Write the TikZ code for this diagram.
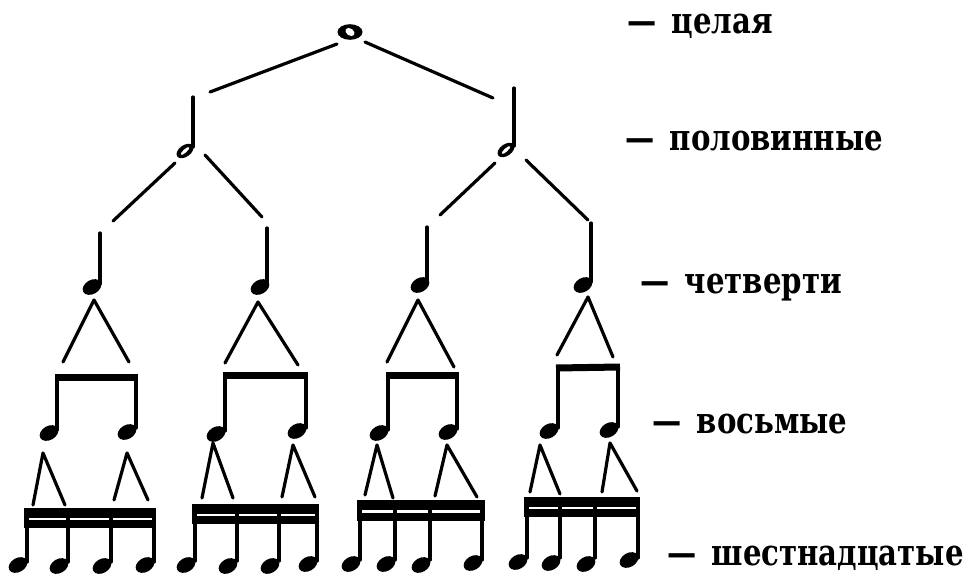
\documentclass[tikz,border=0pt]{standalone}
\usepackage{fontspec}
\setmainfont{DejaVu Serif}[FakeStretch=0.8]
\tikzset{
  link/.style={line width=3.2pt, line cap=round, line join=round},
  stem/.style={line width=3.2pt, line cap=round},
  beamone/.style={line width=7pt},
  lab/.style={anchor=base west, inner sep=0pt, font=\fontsize{36.5}{40}\selectfont\bfseries},
}
\newcommand\qhead[1]{\fill[shift={(#1)},rotate=30] (0,0) ellipse [x radius=10pt, y radius=7pt];}
\newcommand\hhead[1]{\fill[shift={(#1)},rotate=35] (0,0) ellipse [x radius=9.5pt, y radius=5.8pt];
  \fill[white,shift={(#1)},rotate=42] (0,0) ellipse [x radius=5.5pt, y radius=1.7pt];}
\newcommand\dbeam[4]{\fill (#1,#3) rectangle (#2,#4);
  \draw[white,line width=2.6pt] ({#1+2},{0.5*(#3+#4)+1}) -- ({#2-2},{0.5*(#3+#4)+1});}
\begin{document}
\begin{tikzpicture}[x=1pt,y=-1pt]
\useasboundingbox (0,0) rectangle (972,576);
% whole note
\coordinate (w) at (350,32);
\fill (w) ellipse [x radius=12.5pt, y radius=7.8pt];
\fill[white,shift={(w)},rotate=-35] (0,0) ellipse [x radius=5pt, y radius=3.5pt];
\draw[link] (337,44) -- (210,92);
\draw[link] (365,42) -- (493,98);
% half notes
\coordinate (h1) at (185,151);
\coordinate (h2) at (506,150);
\hhead{h1} \hhead{h2}
\draw[stem] (193,97) -- (193,147);
\draw[stem] (514,88) -- (514,146);
\draw[link] (175,163) -- (113,221);
\draw[link] (205,155) -- (262,217);
\draw[link] (495,163) -- (440,215);
\draw[link] (526,160) -- (588,220);
% quarter notes
\qhead{92,287} \qhead{260,287} \qhead{420,285} \qhead{583,285}
\draw[stem] (100,233) -- (100,284);
\draw[stem] (267,228) -- (267,284);
\draw[stem] (427,227) -- (427,282);
\draw[stem] (591,223) -- (591,282);
\draw[link] (63,362) -- (94,300) -- (129,362);
\draw[link] (225,363) -- (258,302) -- (298,365);
\draw[link] (387,362) -- (418,300) -- (454,367);
\draw[link] (557,355) -- (588,297) -- (613,357);
% eighth notes
\draw[beamone] (55,377) -- (138,377);
\draw[stem] (57,377) -- (57,430);  \draw[stem] (136,377) -- (136,428);
\qhead{49,433} \qhead{127,432}
\draw[beamone] (223,375) -- (308,375);
\draw[stem] (225,375) -- (225,431); \draw[stem] (306,375) -- (306,428);
\qhead{216,434} \qhead{297,431}
\draw[beamone] (386,375) -- (459,375);
\draw[stem] (388,375) -- (388,430); \draw[stem] (457,375) -- (457,429);
\qhead{379,433} \qhead{448,432}
\draw[beamone] (556,368) -- (620,367);
\draw[stem] (558,368) -- (558,428); \draw[stem] (618,367) -- (618,427);
\qhead{549,431} \qhead{609,430}
% links to sixteenths
\draw[link] (33,505) -- (43,453) -- (65,505);
\draw[link] (114,500) -- (127,453) -- (148,500);
\draw[link] (202,498) -- (213,443) -- (233,498);
\draw[link] (282,497) -- (293,445) -- (315,497);
\draw[link] (365,495) -- (377,445) -- (393,498);
\draw[link] (435,496) -- (447,445) -- (477,497);
\draw[link] (530,492) -- (540,445) -- (560,494);
\draw[link] (602,492) -- (610,443) -- (637,491);
% sixteenth notes
\dbeam{24}{156}{508}{528}
\foreach \x in {27,68,111,154} \draw[stem] (\x,510) -- (\x,562);
\qhead{18,565} \qhead{59,566} \qhead{102,566} \qhead{145,565}
\dbeam{192}{319}{504}{524}
\foreach \x in {195,237,279,317} \draw[stem] (\x,506) -- (\x,561);
\qhead{186,565} \qhead{228,566} \qhead{270,566} \qhead{308,564}
\dbeam{357}{485}{500}{521}
\foreach \x in {360,395,430,482} \draw[stem] (\x,502) -- (\x,560);
\qhead{351,564} \qhead{386,564} \qhead{421,565} \qhead{473,563}
\dbeam{524}{640}{497}{517}
\foreach \x in {527,560,595,638} \draw[stem] (\x,499) -- (\x,558);
\qhead{518,562} \qhead{551,563} \qhead{586,564} \qhead{629,560}
% labels
\node[lab] (l1) at (627,33) {—\hspace{0.42em}целая};
\node[lab] (l2) at (625,150) {—\hspace{0.42em}половинные};
\node[lab] (l3) at (640,293) {—\hspace{0.42em}четверти};
\node[lab] (l4) at (652,433) {—\hspace{0.42em}восьмые};
\node[lab] (l5) at (667,565) {—\hspace{0.42em}шестнадцатые};
\end{tikzpicture}
\end{document}
